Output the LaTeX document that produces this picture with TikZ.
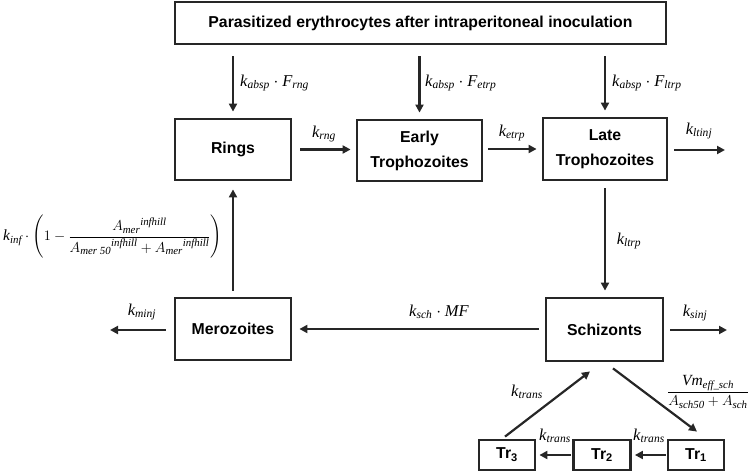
\documentclass[tikz,border=0pt]{standalone}
\usepackage{amsmath}
\usepackage{fontspec}
\setmainfont{Liberation Serif}
\newfontfamily\boxfont{Liberation Sans}
\usetikzlibrary{arrows.meta,calc}
\newcommand{\vi}[1]{\textit{#1}}
\begin{document}
\begin{tikzpicture}[x=1pt,y=-1pt,
  box/.style={draw=black!85, line width=2.8pt, font=\boxfont\bfseries\fontsize{15.8}{25}\selectfont, align=center, inner sep=0pt},
  arr/.style={draw=black!85, line width=2.2pt, -{Triangle[length=8pt,width=8pt]}},
  lab/.style={font=\fontsize{16.5}{19}\selectfont, inner sep=0pt},
  frac/.style={font=\fontsize{15.5}{18}\selectfont, inner sep=0pt}]
\useasboundingbox (0,0) rectangle (750,471);
% boxes
\node[box, minimum width=491pt, minimum height=42pt] (top) at (420.5,23) {Parasitized erythrocytes after intraperitoneal inoculation};
\node[box, minimum width=116pt, minimum height=61pt] (rings) at (233,149.5) {Rings};
\node[box, minimum width=125pt, minimum height=61pt] (early) at (419.5,150.5) {Early\\Trophozoites};
\node[box, minimum width=124pt, minimum height=62pt] (late) at (605,149) {Late\\Trophozoites};
\node[box, minimum width=116pt, minimum height=62pt] (mero) at (233,329) {Merozoites};
\node[box, minimum width=117pt, minimum height=63pt] (schz) at (604.5,329.5) {Schizonts};
\node[box, minimum width=56pt, minimum height=30pt] (tr1) at (696,455) {Tr\textsubscript{1}};
\node[box, minimum width=57pt, minimum height=30pt] (tr2) at (602,455) {Tr\textsubscript{2}};
\node[box, minimum width=56pt, minimum height=30pt] (tr3) at (507,455) {Tr\textsubscript{3}};
% free ends
\coordinate (ltinj) at (725,150);
\coordinate (sinj) at (727,330);
\coordinate (minj) at (110,330);
% arrows from top
\draw[arr, shorten <=11pt, shorten >=6pt] (top.south -| rings.north) -- (rings.north);
\draw[arr, shorten <=11pt, shorten >=6pt] (top.south -| early.north) -- (early.north);
\draw[arr, shorten <=11pt, shorten >=6pt] (top.south -| late.north) -- (late.north);
\node[lab, anchor=west] at (240,83) {$\vi{k}_{\vi{absp}}\cdot \vi{F}_{\vi{rng}}$};
\node[lab, anchor=west] at (425,83) {$\vi{k}_{\vi{absp}}\cdot \vi{F}_{\vi{etrp}}$};
\node[lab, anchor=west] at (612,83) {$\vi{k}_{\vi{absp}}\cdot \vi{F}_{\vi{ltrp}}$};
% horizontal chain
\draw[arr, shorten <=8pt, shorten >=5pt] (rings.east) -- (early.west |- rings.east);
\node[lab] at (324,134) {$\vi{k}_{\vi{rng}}$};
\draw[arr, shorten <=5pt, shorten >=5pt] (early.east |- late.west) -- (late.west);
\node[lab] at (512,133) {$\vi{k}_{\vi{etrp}}$};
\draw[arr, shorten <=6pt] (late.east |- ltinj) -- (ltinj);
\node[lab] at (699,131) {$\vi{k}_{\vi{ltinj}}$};
% late -> schizonts
\draw[arr, shorten <=7pt, shorten >=6pt] (late.south) -- (late.south |- schz.north);
\node[lab] at (629,241) {$\vi{k}_{\vi{ltrp}}$};
\draw[arr, shorten <=6pt] (schz.east |- sinj) -- (sinj);
\node[lab] at (695,313) {$\vi{k}_{\vi{sinj}}$};
% schizonts -> merozoites
\draw[arr, shorten <=6pt, shorten >=7pt] (schz.west |- mero.east) -- (mero.east);
\node[lab] at (439,312) {$\vi{k}_{\vi{sch}}\cdot \vi{MF}$};
\draw[arr, shorten <=8pt] (mero.west |- minj) -- (minj);
\node[lab] at (142,312) {$\vi{k}_{\vi{minj}}$};
% merozoites -> rings
\draw[arr, shorten <=6pt, shorten >=8pt] (mero.north) -- (rings.south);
\node[frac, anchor=west] at (3,237) {$\vi{k}_{\vi{inf}}\cdot\left(1-\dfrac{{A_{\vi{mer}}}^{\vi{infhill}}}{{A_{\vi{mer 50}}}^{\vi{infhill}}+{A_{\vi{mer}}}^{\vi{infhill}}}\right)$};
% transit compartments
\draw[arr] ($(schz.south)+(8.5,6)$) -- ($(tr1.north)+(1,-7)$);
\node[frac] at (708,392) {$\dfrac{\vi{Vm}_{\vi{eff\_sch}}}{A_{\vi{sch50}}+A_{\vi{sch}}}$};
\draw[arr, shorten <=1pt, shorten >=3pt] (tr1.west) -- (tr2.east);
\node[lab] at (649,436) {$\vi{k}_{\vi{trans}}$};
\draw[arr, shorten <=1pt, shorten >=3pt] (tr2.west) -- (tr3.east);
\node[lab] at (555,436) {$\vi{k}_{\vi{trans}}$};
\draw[arr] ($(tr3.north)+(-2,-2)$) -- ($(schz.south)+(-14.5,9)$);
\node[lab] at (527,392) {$\vi{k}_{\vi{trans}}$};
\end{tikzpicture}
\end{document}
